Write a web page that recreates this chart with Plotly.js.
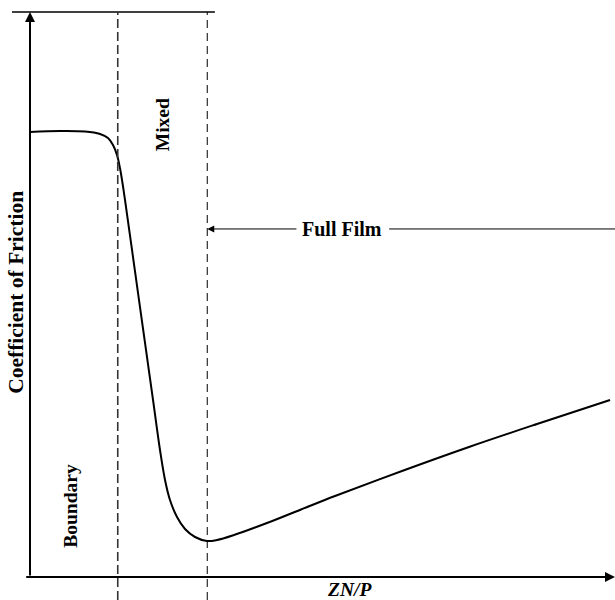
<!DOCTYPE html>
<html>
<head>
<meta charset="utf-8">
<script src="https://cdn.plot.ly/plotly-3.0.1.min.js"></script>
<style>html,body{margin:0;padding:0;background:#fff;}#chart{width:615px;height:600px;}</style>
</head>
<body>
<div id="chart"></div>
<script>
// Stribeck curve (schematic, arbitrary units)
const zn = [0, 5.13, 9.40, 11.97, 13.33, 14.19, 14.87, 15.38, 15.81, 16.24, 17.44, 18.63, 19.83, 21.03, 22.22, 23.08, 23.93, 25.13, 26.50, 28.21, 30.26, 31.97, 34.87, 40.51, 46.32, 52.14, 63.59, 75.04, 86.67, 99.15];
const mu = [78.76, 78.94, 78.85, 78.41, 77.70, 76.46, 74.69, 72.39, 69.73, 66.73, 57.88, 49.03, 40.18, 31.33, 22.48, 17.17, 13.63, 10.62, 8.50, 7.08, 6.37, 6.55, 7.43, 9.56, 11.95, 14.34, 18.76, 23.01, 27.08, 31.33];
const regimeBounds = [15.0, 30.3];
const regimeNames = ["Boundary", "Mixed", "Full Film"];
const xLabel = "ZN/P";
const yLabel = "Coefficient of Friction";

const X0 = -5.128, X1 = 100, Y0 = -4.071, Y1 = 102.124, TOP = 100;
const FAM = "Liberation Serif, Times New Roman, serif";
const FONT = {family: FAM, size: 19.5, color: "#000"};

const traces = [{
  x: zn, y: mu, type: "scatter", mode: "lines",
  line: {color: "#000", width: 2, shape: "spline", smoothing: 1},
  hoverinfo: "skip", showlegend: false
}];

const shapes = [
  {type: "line", xref: "x", yref: "y", x0: X0 + 2.05, x1: 31.6, y0: TOP, y1: TOP, line: {color: "#000", width: 1.5}},
  {type: "line", xref: "x", yref: "y", x0: regimeBounds[0], x1: regimeBounds[0], y0: Y0, y1: TOP, line: {color: "#333", width: 1.6, dash: "9px,4px"}},
  {type: "line", xref: "x", yref: "y", x0: regimeBounds[1], x1: regimeBounds[1], y0: Y0, y1: TOP, line: {color: "#000", width: 1, dash: "8px,5px"}},
  {type: "line", xref: "x", yref: "y", x0: 61.4, x1: X1, y0: 61.6, y1: 61.6, line: {color: "#000", width: 1}}
];

const arrow = (x, y, ax, ay, w, size) => ({
  xref: "x", yref: "y", axref: "x", ayref: "y", x: x, y: y, ax: ax, ay: ay,
  text: "", showarrow: true, arrowhead: 2, arrowsize: size, arrowwidth: w,
  arrowcolor: "#000", standoff: 0, startstandoff: 0
});

const annotations = [
  arrow(0, TOP, 0, 0, 2, 1),
  arrow(X1, 0, -0.9, 0, 2, 1),
  arrow(regimeBounds[1], 61.6, 45.8, 61.6, 1, 1.4),
  {xref: "x", yref: "y", x: 7.0, y: 12.6, text: "<b>" + regimeNames[0] + "</b>", textangle: -90, showarrow: false, font: FONT},
  {xref: "x", yref: "y", x: 22.6, y: 80.0, text: "<b>" + regimeNames[1] + "</b>", textangle: -90, showarrow: false, font: FONT},
  {xref: "x", yref: "y", x: 53.3, y: 61.6, text: "<b>" + regimeNames[2] + "</b>", showarrow: false, font: {family: FAM, size: 20, color: "#000"}},
  {xref: "x", yref: "y", x: 54.7, y: -2.3, text: "<b><i>" + xLabel + "</i></b>", showarrow: false, font: FONT},
  {xref: "x", yref: "y", x: -2.39, y: 50.3, text: "<b>" + yLabel + "</b>", textangle: -90, showarrow: false, font: {family: FAM, size: 21.5, color: "#000"}}
];

const layout = {
  width: 615, height: 600,
  margin: {l: 0, r: 0, t: 0, b: 0, pad: 0},
  paper_bgcolor: "#fff", plot_bgcolor: "#fff",
  xaxis: {range: [X0, X1], visible: false, fixedrange: true},
  yaxis: {range: [Y0, Y1], visible: false, fixedrange: true},
  shapes: shapes, annotations: annotations, showlegend: false
};

Plotly.newPlot("chart", traces, layout, {displayModeBar: false, staticPlot: true});
</script>
</body>
</html>
